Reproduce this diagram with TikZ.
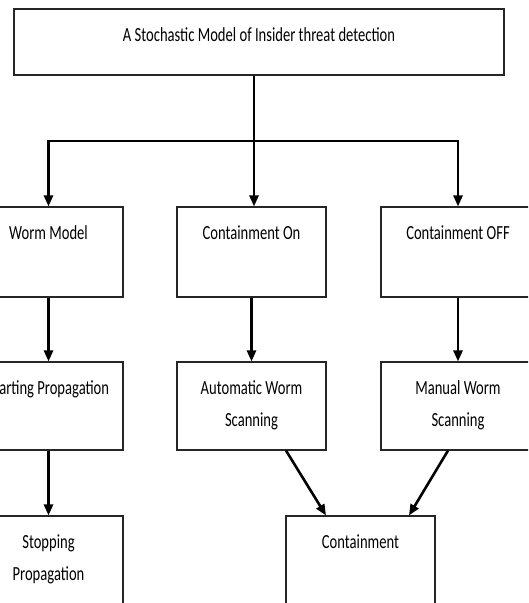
\documentclass[tikz,border=0pt]{standalone}
\usepackage{fontspec}
\setmainfont{Carlito}[FakeStretch=0.73]
\usetikzlibrary{arrows.meta,calc}
\newcommand\boxlines[1]{\parbox[t]{150pt}{\centering #1}}
\begin{document}
\begin{tikzpicture}[x=1pt,y=1pt,
  box/.style={draw=black!85, line width=1.1pt, minimum width=149pt, inner sep=0pt},
  lbl/.style={anchor=base, yshift=-33pt, inner sep=0pt, font=\fontsize{20}{32}\selectfont},
  arr/.style={line width=2.6pt, -{Triangle[length=11pt,width=9pt]}},
  ln/.style={line width=2.6pt}]
\useasboundingbox (0,0) rectangle (528,-603);
\clip (0,0) rectangle (528,-603);
\node[box, minimum width=490pt, minimum height=66pt,
  label={[lbl]north:A Stochastic Model of Insider threat detection}] (top) at (259,-42) {};
\node[box, minimum height=90pt, label={[lbl]north:Worm Model}] (wm) at (48.5,-252) {};
\node[box, minimum height=90pt, label={[lbl]north:Containment On}] (con) at (251.5,-252) {};
\node[box, minimum width=154pt, minimum height=90pt, label={[lbl]north:Containment OFF}] (coff) at (458,-252) {};
\node[box, minimum height=88pt, label={[lbl]north:Starting Propagation}] (sp) at (48.5,-406) {};
\node[box, minimum height=88pt, label={[lbl]north:\boxlines{Automatic Worm\\Scanning}}] (aws) at (251.5,-406) {};
\node[box, minimum width=154pt, minimum height=88pt, label={[lbl]north:\boxlines{Manual Worm\\Scanning}}] (mws) at (458,-406) {};
\node[box, minimum height=124pt, label={[lbl]north:\boxlines{Stopping\\Propagation}}] (stop) at (48.5,-578) {};
\node[box, minimum height=124pt, label={[lbl]north:Containment}] (cont) at (360.5,-578) {};
\coordinate (split) at (254,-141);
\draw[ln] (split |- top.south) -- (split);
\draw[arr] (split) -| (wm.north);
\draw[arr] (split) -| (coff.north);
\draw[arr] (split) -- (split |- con.north);
\draw[arr] (wm.south) -- (sp.north);
\draw[arr] (con.south) -- (aws.north);
\draw[arr] (coff.south) -- (mws.north);
\draw[arr] (sp.south) -- (stop.north);
\draw[arr] ($(aws.south)+(34.5,0)$) -- ($(cont.north)+(-34.5,0)$);
\draw[arr] ($(mws.south)+(-10,0)$) -- ($(cont.north)+(48.5,0)$);
\end{tikzpicture}
\end{document}
